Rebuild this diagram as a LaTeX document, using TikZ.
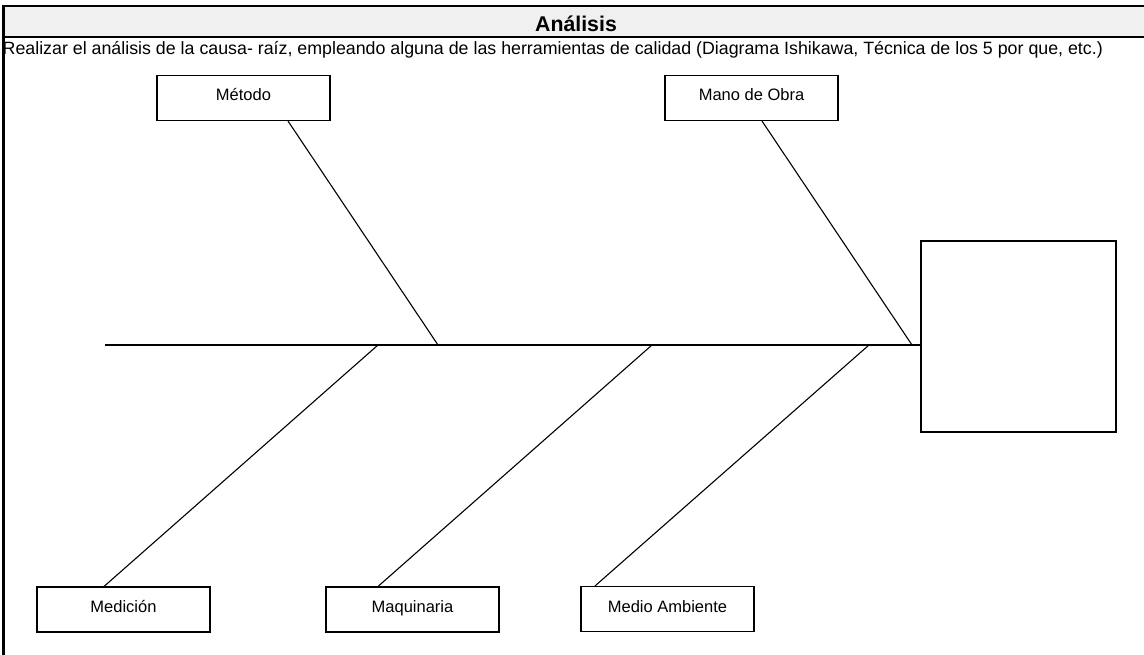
\documentclass[tikz,border=0pt]{standalone}
\usepackage{fontspec}
\setmainfont{Liberation Sans}
\begin{document}
\begin{tikzpicture}[x=1pt,y=-1pt,
		causa/.style={draw,line width=1.1pt,minimum width=173pt,minimum height=45pt,inner sep=0pt,text height=12pt,text depth=6pt,font=\fontsize{16.5}{18}\selectfont},
		espina/.style={line width=1.1pt},
		marco/.style={line width=2.8pt}]
		\useasboundingbox (0,0) rectangle (1144,655);
		% encabezado
		\fill[black!6] (3,6) rectangle (1144,37);
		\draw[marco] (2,6) -- (1144,6);
		\draw[marco] (2,37) -- (1144,37);
		\draw[marco] (3.3,4.7) -- (3.3,655);
		\node[anchor=base] (titulo) at (576,32) {\fontsize{21.3}{23}\selectfont\bfseries Análisis};
		\node[anchor=base west,inner sep=0pt] (texto) at (2.5,55) {\fontsize{17.8}{19}\selectfont Realizar el análisis de la causa- raíz, empleando alguna de las herramientas de calidad (Diagrama Ishikawa, Técnica de los 5 por que, etc.)};
		
		% cajas
		\node[causa] (metodo) at (243.5,98) {Método};
		\node[causa] (mano) at (751.5,98) {Mano de Obra};
		\node[causa] (medicion) at (123.5,609.5) {Medición};
		\node[causa] (maquinaria) at (412.5,609.5) {Maquinaria};
		\node[causa] (medio) at (667.5,609) {Medio Ambiente};
		\node[draw,line width=1.1pt,minimum width=195pt,minimum height=191pt] (efecto) at (1018.5,336.5) {};
		
		% espina central
		\coordinate (cola) at (105,345);
		\coordinate (j1) at (378,345);
		\coordinate (j2) at (438,345);
		\coordinate (j3) at (652,345);
		\coordinate (j4) at (869,345);
		\coordinate (j5) at (912,345);
		\draw[espina] (cola) -- ([yshift=-8.5pt]efecto.west);
		
		% ramas
		\draw[espina] ([xshift=44.5pt]metodo.south) -- (j2);
		\draw[espina] ([xshift=10.5pt]mano.south) -- (j5);
		\draw[espina] ([xshift=-19.5pt]medicion.north) -- (j1);
		\draw[espina] ([xshift=-34.5pt]maquinaria.north) -- (j3);
		\draw[espina] ([xshift=-72.5pt]medio.north) -- (j4);
	\end{tikzpicture}
\end{document}
